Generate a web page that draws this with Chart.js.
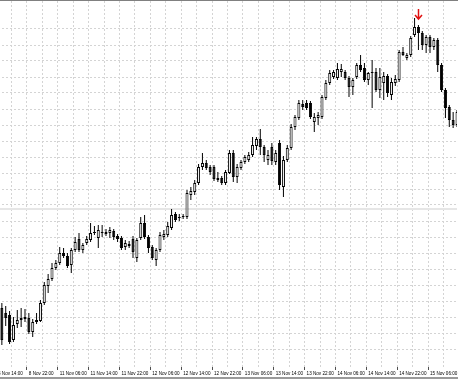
<!DOCTYPE html>
<html>
<head>
<meta charset="utf-8">
<script src="https://cdn.jsdelivr.net/npm/chart.js@4/dist/chart.umd.min.js"></script>
<style>
  html, body { margin: 0; padding: 0; background: #fff; overflow: hidden; }
  #chart { position: absolute; left: -3px; top: 0; }
</style>
</head>
<body>
<canvas id="chart" width="461" height="380"></canvas>
<script>
// hourly sessions shown on the chart (day, first hour, last hour)
const sessions = [
    ['8 Nov', 14, 23],
    ['11 Nov', 0, 23],
    ['12 Nov', 0, 23],
    ['13 Nov', 0, 23],
    ['14 Nov', 0, 23],
    ['15 Nov', 0, 13]
];

// prices in points, one per hourly bar
const opens = [
    52, 62, 57, 55, 30, 46, 50, 51, 52, 38, 48,
    49, 67, 84, 91, 102, 107, 117, 114, 105, 120,
    131, 120, 127, 130, 137, 132, 138, 138, 137, 139,
    134, 132, 123, 124, 131, 112, 132, 147, 133, 123,
    110, 120, 133, 135, 142, 156, 152, 153, 153, 175,
    178, 187, 203, 207, 203, 203, 190, 192, 187, 197,
    217, 193, 202, 208, 210, 215, 224, 231, 223, 210,
    223, 208, 227, 183, 210, 222, 243, 252, 266, 267,
    267, 248, 252, 253, 272, 287, 293, 292, 298, 298,
    292, 283, 293, 305, 302, 290, 297, 298, 280, 287,
    294, 275, 287, 290, 318, 312, 315, 335, 343, 337,
    325, 333, 323, 330, 305, 280, 263, 250, 245
];
const highs = [
    65, 67, 64, 59, 53, 60, 62, 61, 57, 51, 57,
    70, 88, 96, 107, 110, 123, 122, 117, 122, 133,
    137, 127, 134, 147, 144, 145, 145, 141, 143, 141,
    136, 134, 130, 129, 134, 132, 153, 155, 135, 125,
    122, 138, 140, 148, 161, 158, 156, 156, 180, 183,
    190, 206, 217, 210, 205, 205, 198, 194, 200, 220,
    220, 206, 210, 215, 218, 233, 233, 241, 225, 220,
    227, 220, 230, 214, 225, 246, 255, 270, 270, 270,
    269, 257, 258, 275, 290, 300, 300, 307, 306, 300,
    294, 292, 307, 315, 307, 298, 310, 302, 302, 298,
    296, 292, 295, 320, 323, 317, 334, 352, 345, 339,
    335, 335, 332, 332, 307, 282, 265, 258, 260
];
const lows = [
    48, 25, 44, 26, 28, 42, 43, 48, 36, 33, 46,
    48, 65, 77, 89, 100, 105, 112, 102, 97, 118,
    118, 117, 125, 128, 135, 122, 133, 134, 132, 130,
    128, 120, 120, 122, 112, 108, 130, 131, 117, 110,
    104, 118, 130, 133, 140, 148, 149, 151, 151, 170,
    175, 185, 200, 200, 195, 189, 188, 185, 185, 196,
    188, 187, 200, 206, 208, 213, 220, 215, 208, 205,
    205, 205, 180, 173, 208, 220, 240, 250, 260, 260,
    251, 238, 245, 251, 270, 285, 291, 290, 293, 290,
    273, 275, 291, 298, 288, 285, 262, 278, 272, 270,
    273, 270, 284, 288, 314, 310, 313, 333, 320, 320,
    317, 317, 320, 298, 278, 252, 243, 242, 243
];
const closes = [
    58, 30, 52, 28, 45, 50, 52, 53, 38, 48, 50,
    67, 85, 91, 102, 107, 117, 114, 104, 120, 128,
    120, 125, 131, 137, 138, 140, 137, 136, 140, 133,
    131, 122, 127, 126, 118, 130, 147, 133, 122, 112,
    120, 135, 136, 144, 155, 150, 153, 154, 177, 179,
    187, 203, 207, 202, 198, 191, 192, 187, 198, 217,
    193, 203, 208, 213, 215, 225, 231, 223, 215, 215,
    209, 217, 185, 210, 222, 243, 253, 267, 263, 262,
    253, 253, 255, 273, 287, 297, 298, 301, 301, 292,
    283, 290, 305, 300, 290, 297, 298, 280, 293, 294,
    277, 288, 291, 318, 315, 315, 332, 343, 337, 325,
    333, 323, 330, 305, 280, 262, 250, 245, 258
];

const levelLine = 161;                                  // horizontal line object
const arrowMark = { time: '15 Nov 03:00', price: 351 }; // red down arrow

const labels = [];
const hours = [];
sessions.forEach(([day, from, to]) => {
    for (let h = from; h <= to; h++) {
        labels.push(day + ' ' + String(h).padStart(2, '0') + ':00');
        hours.push(h);
    }
});

const gridColor = '#d4d4d4';
const clear = 'rgba(0,0,0,0)';

const wickData = lows.map((l, i) => [l, highs[i]]);
const bodyData = opens.map((o, i) => [o, closes[i]]);
const bodyColors = opens.map((o, i) => closes[i] >= o ? '#ffffff' : '#000000');

const frame = {
    id: 'frame',
    beforeDatasetsDraw(chart) {
        const { ctx, chartArea, scales: { y } } = chart;
        const py = Math.round(y.getPixelForValue(levelLine));
        ctx.save();
        ctx.strokeStyle = '#e6e6e6';
        ctx.lineWidth = 2;
        ctx.beginPath();
        ctx.moveTo(chartArea.left, py);
        ctx.lineTo(chartArea.right, py);
        ctx.stroke();
        ctx.restore();
    },
    afterDraw(chart) {
        const { ctx, width, height, scales: { x, y } } = chart;
        ctx.save();
        ctx.strokeStyle = '#808080';
        ctx.lineWidth = 1;
        ctx.beginPath();
        ctx.moveTo(0, 0.5);
        ctx.lineTo(width, 0.5);
        ctx.stroke();
        ctx.strokeStyle = '#9a9a9a';
        ctx.lineWidth = 2;
        ctx.beginPath();
        ctx.moveTo(0, height - 2);
        ctx.lineTo(width, height - 2);
        ctx.stroke();

        // arrow
        const ax = Math.round(x.getPixelForValue(labels.indexOf(arrowMark.time))) + 0.5;
        const tip = y.getPixelForValue(arrowMark.price);
        ctx.strokeStyle = '#e01010';
        ctx.lineWidth = 1.5;
        ctx.beginPath();
        ctx.moveTo(ax, tip - 10);
        ctx.lineTo(ax, tip);
        ctx.moveTo(ax - 3.5, tip - 4);
        ctx.lineTo(ax, tip);
        ctx.lineTo(ax + 3.5, tip - 4);
        ctx.stroke();
        ctx.restore();
    }
};

new Chart(document.getElementById('chart').getContext('2d'), {
    type: 'bar',
    data: {
        labels: labels,
        datasets: [{
            data: wickData,
            backgroundColor: '#000000',
            barThickness: 1,
            inflateAmount: 0,
            grouped: false,
            order: 2
        }, {
            data: bodyData,
            backgroundColor: bodyColors,
            borderColor: '#000000',
            borderWidth: 1,
            borderSkipped: false,
            barThickness: 3,
            minBarLength: 1,
            inflateAmount: 0,
            grouped: false,
            order: 1
        }]
    },
    options: {
        responsive: false,
        animation: false,
        layout: { padding: { top: 1, left: 0, right: 0, bottom: 0 } },
        plugins: {
            legend: { display: false },
            tooltip: { enabled: false }
        },
        scales: {
            x: {
                type: 'category',
                offset: false,
                grid: {
                    color: c => hours[c.index] % 4 === 2 ? gridColor : clear,
                    tickColor: c => hours[c.index] % 8 === 6 ? '#505050' : clear,
                    tickLength: 3,
                    drawTicks: true
                },
                border: { display: false, dash: [2, 2] },
                ticks: {
                    autoSkip: false,
                    maxRotation: 0,
                    minRotation: 0,
                    align: 'start',
                    padding: 1,
                    color: '#000000',
                    font: { family: 'Liberation Sans', size: 4.6 },
                    callback: (v, i) => hours[i] % 8 === 6 ? labels[i] : ''
                },
                afterFit: s => { s.height = 13; }
            },
            y: {
                display: false,
                min: 3,
                max: 369
            },
            yg: {
                type: 'linear',
                position: 'left',
                min: -2,
                max: 364,
                ticks: { display: false, stepSize: 16 },
                grid: {
                    color: c => c.tick && c.tick.value % 16 === 0 ? gridColor : clear,
                    drawTicks: false
                },
                border: { display: false, dash: [2, 2] },
                afterFit: s => { s.width = 0; }
            }
        }
    },
    plugins: [frame]
});
</script>
</body>
</html>
